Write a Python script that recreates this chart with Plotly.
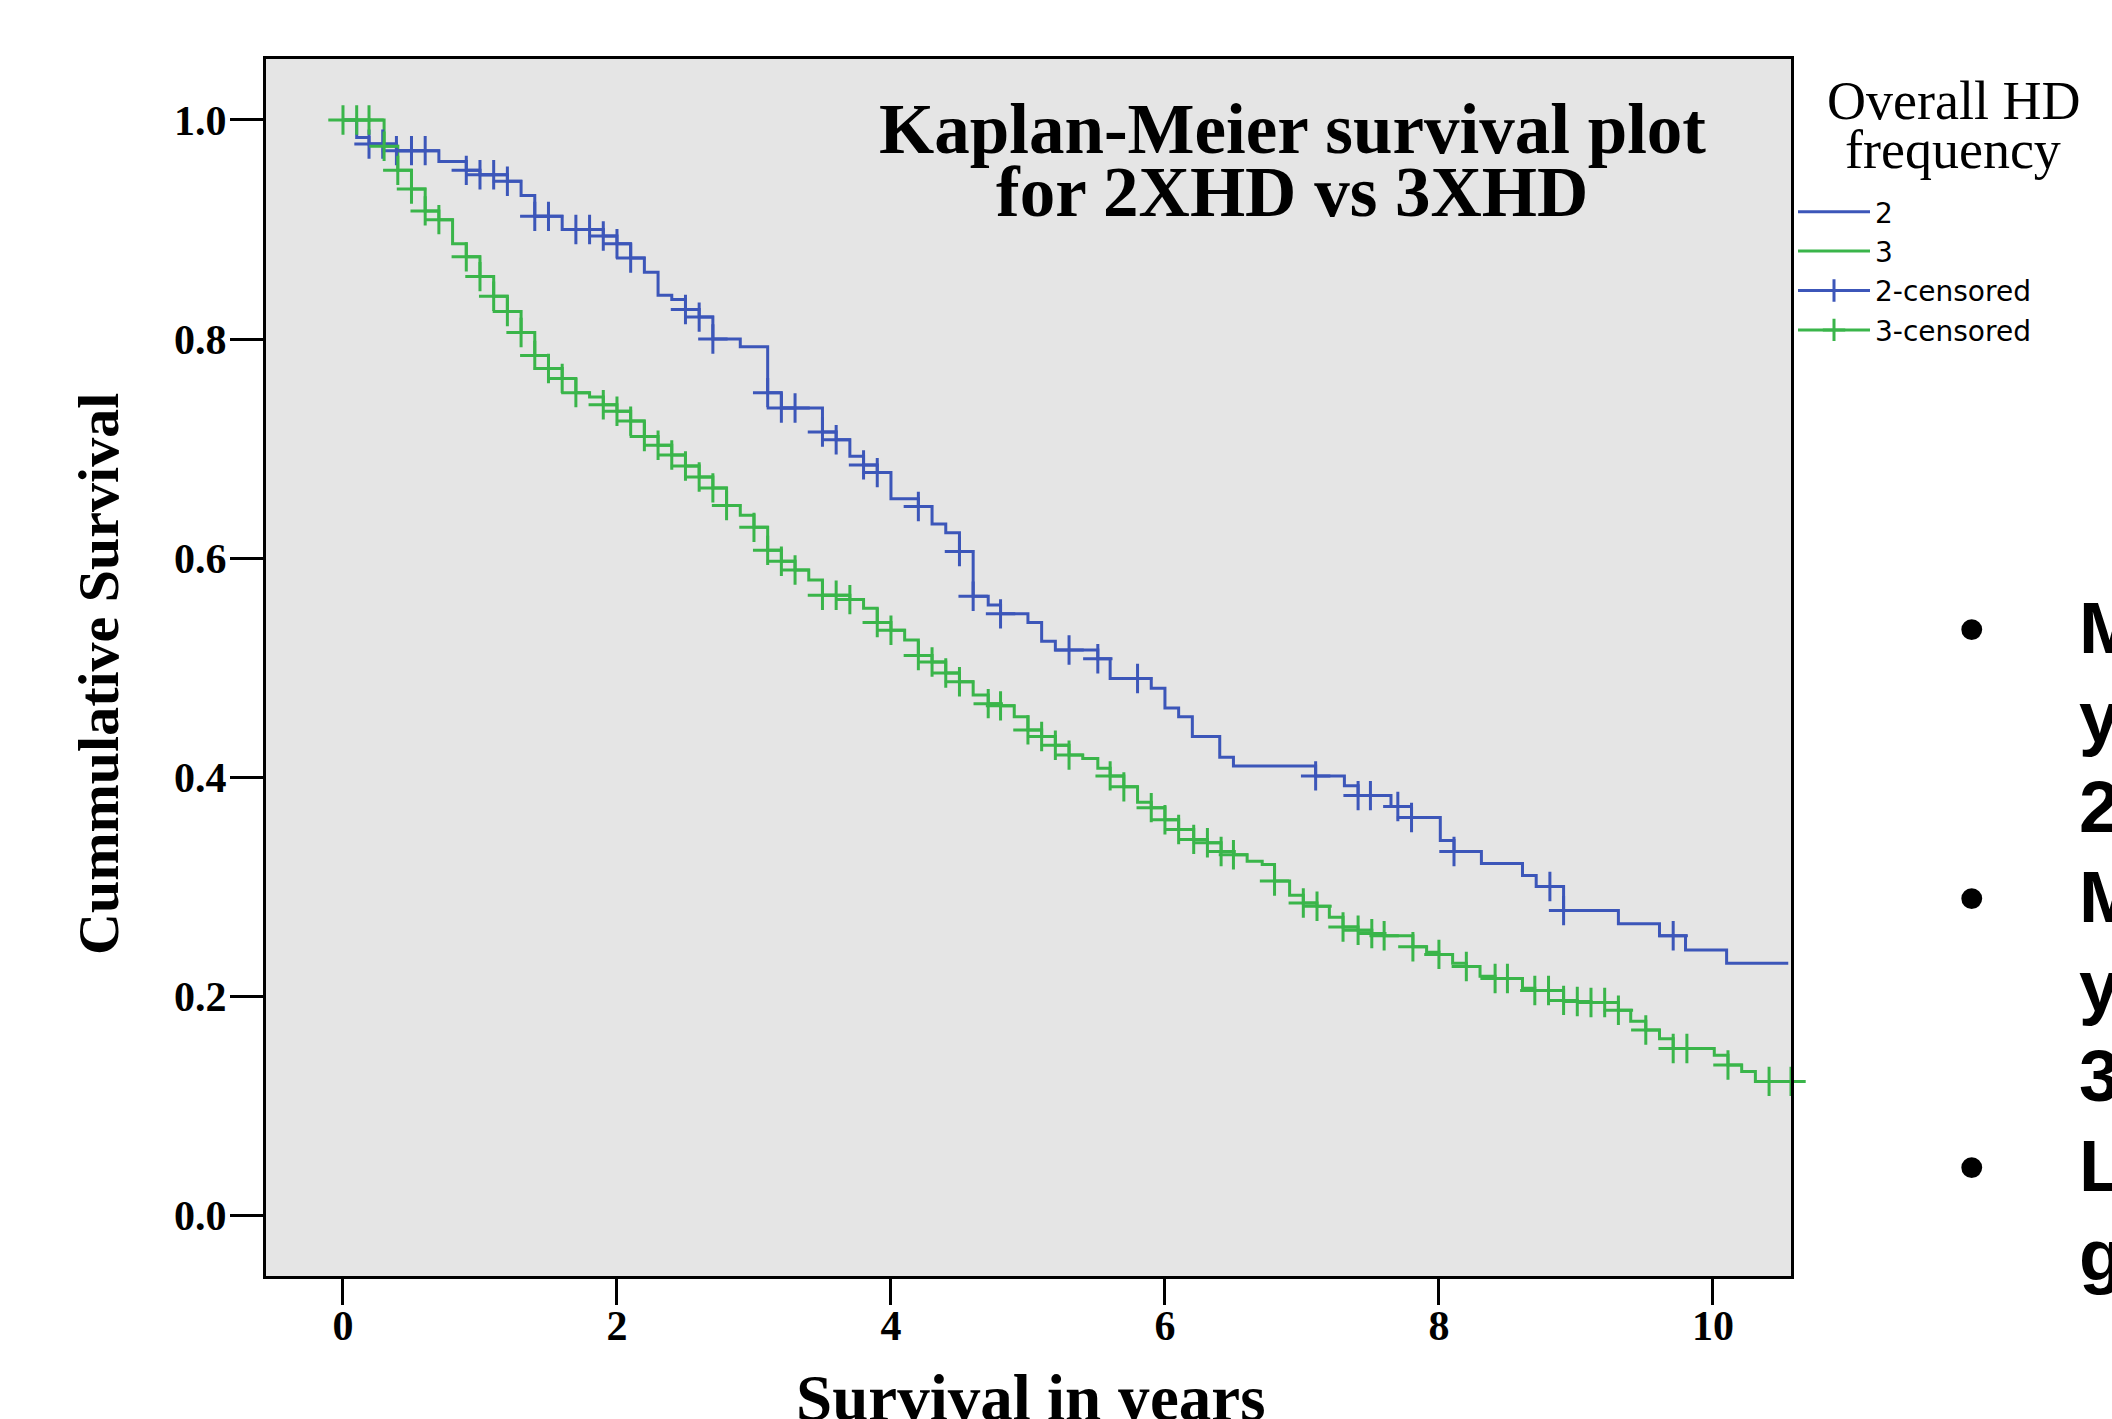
import numpy as np
import plotly.graph_objects as go

# ---------------- data ----------------
blue_t = [0, 0.10, 0.19, 0.39, 0.70, 0.90, 1.00, 1.20, 1.30, 1.40, 1.60, 1.90, 2.00, 2.10, 2.20,
          2.30, 2.40, 2.50, 2.60, 2.70, 2.90, 3.10, 3.20, 3.50, 3.60, 3.70, 3.80, 3.90, 4.00, 4.20,
          4.30, 4.40, 4.50, 4.60, 4.71, 4.80, 5.00, 5.10, 5.20, 5.51, 5.60, 5.90, 6.00, 6.10, 6.20,
          6.40, 6.50, 7.10, 7.31, 7.41, 7.65, 7.80, 8.01, 8.11, 8.31, 8.61, 8.71, 8.91, 9.31, 9.61,
          9.80, 10.10, 10.55]
blue_s = [1.0, 0.984, 0.978, 0.972, 0.962, 0.954, 0.950, 0.944, 0.931, 0.912, 0.900, 0.894, 0.887,
          0.874, 0.861, 0.840, 0.836, 0.827, 0.820, 0.800, 0.793, 0.751, 0.737, 0.715, 0.708, 0.693,
          0.685, 0.678, 0.654, 0.647, 0.631, 0.623, 0.606, 0.565, 0.557, 0.549, 0.541, 0.524, 0.516,
          0.508, 0.490, 0.481, 0.463, 0.455, 0.437, 0.418, 0.410, 0.401, 0.392, 0.383, 0.373, 0.363,
          0.342, 0.332, 0.321, 0.310, 0.300, 0.278, 0.266, 0.255, 0.242, 0.230, 0.230]
blue_censored = [0.19, 0.29, 0.39, 0.50, 0.60, 0.90, 1.00, 1.10, 1.20, 1.40, 1.50, 1.70, 1.80, 1.90,
                 2.00, 2.10, 2.50, 2.60, 2.70, 3.10, 3.20, 3.30, 3.50, 3.60, 3.80, 3.90, 4.20, 4.50,
                 4.60, 4.80, 5.30, 5.51, 5.80, 7.10, 7.41, 7.50, 7.70, 7.80, 8.11, 8.81, 8.91, 9.71]

green_t = [0, 0.30, 0.40, 0.50, 0.60, 0.70, 0.80, 0.90, 1.00, 1.10, 1.20, 1.30, 1.40, 1.50, 1.60,
           1.70, 1.80, 1.90, 2.00, 2.10, 2.20, 2.30, 2.40, 2.50, 2.60, 2.70, 2.80, 2.90, 3.00, 3.10,
           3.20, 3.30, 3.40, 3.50, 3.70, 3.80, 3.90, 4.00, 4.10, 4.20, 4.30, 4.40, 4.50, 4.60, 4.71,
           4.80, 4.90, 5.00, 5.10, 5.20, 5.30, 5.40, 5.51, 5.60, 5.70, 5.80, 5.90, 6.00, 6.10, 6.21,
           6.31, 6.41, 6.50, 6.60, 6.71, 6.80, 6.91, 7.01, 7.11, 7.20, 7.30, 7.41, 7.51, 7.60, 7.81,
           7.91, 8.00, 8.10, 8.20, 8.30, 8.41, 8.61, 8.70, 8.91, 9.01, 9.11, 9.31, 9.40, 9.51, 9.61,
           9.71, 10.01, 10.11, 10.21, 10.31, 10.57]
green_s = [1.0, 0.976, 0.954, 0.937, 0.917, 0.909, 0.887, 0.875, 0.857, 0.839, 0.825, 0.806, 0.785,
           0.773, 0.764, 0.751, 0.747, 0.740, 0.734, 0.725, 0.711, 0.703, 0.694, 0.684, 0.674, 0.664,
           0.648, 0.639, 0.628, 0.607, 0.597, 0.589, 0.580, 0.566, 0.562, 0.554, 0.541, 0.534, 0.525,
           0.511, 0.505, 0.495, 0.487, 0.475, 0.467, 0.465, 0.455, 0.443, 0.437, 0.429, 0.420, 0.417,
           0.408, 0.401, 0.391, 0.377, 0.372, 0.361, 0.352, 0.343, 0.340, 0.332, 0.329, 0.323, 0.320,
           0.305, 0.292, 0.285, 0.282, 0.272, 0.263, 0.260, 0.257, 0.255, 0.245, 0.240, 0.238, 0.230,
           0.227, 0.218, 0.216, 0.207, 0.205, 0.196, 0.195, 0.194, 0.187, 0.177, 0.169, 0.161, 0.152,
           0.146, 0.137, 0.131, 0.122, 0.122]
green_censored = [0.0, 0.10, 0.19, 0.30, 0.40, 0.50, 0.60, 0.70, 0.90, 1.00, 1.10, 1.20, 1.30, 1.40,
                  1.50, 1.60, 1.70, 1.90, 2.00, 2.10, 2.20, 2.30, 2.40, 2.50, 2.60, 2.70, 2.80, 3.00,
                  3.10, 3.20, 3.30, 3.50, 3.60, 3.70, 3.90, 4.00, 4.20, 4.30, 4.40, 4.50, 4.71, 4.80,
                  5.00, 5.10, 5.20, 5.30, 5.60, 5.70, 5.90, 6.00, 6.10, 6.21, 6.31, 6.41, 6.50, 6.80,
                  7.01, 7.11, 7.30, 7.41, 7.51, 7.60, 7.81, 8.00, 8.20, 8.41, 8.50, 8.70, 8.80, 8.91,
                  9.01, 9.11, 9.21, 9.31, 9.51, 9.71, 9.81, 10.11, 10.41, 10.57]

group_names = ["2", "3"]
censor_names = ["2-censored", "3-censored"]
x_ticks = [0, 2, 4, 6, 8, 10]
y_ticks = [0.0, 0.2, 0.4, 0.6, 0.8, 1.0]
title_lines = ["Kaplan-Meier survival plot", "for 2XHD vs 3XHD"]
legend_title_lines = ["Overall HD", "frequency"]
side_bullets = ["•", "•", "•"]
side_letters = ["M", "y", "2", "M", "y", "3", "L", "g"]

# ---------------- styling / layout geometry ----------------
W, H = 2112, 1419
L, R, T, B = 266, 1791, 59, 1276
BLUE = "#3C56B9"
GREEN = "#3AB54A"
SERIF = "Liberation Serif"


def pxx(x):
    return (x - L) / (R - L)


def pxy(y):
    return (B - y) / (B - T)


def step_value(times, surv, t):
    i = np.searchsorted(np.asarray(times), t, side="right") - 1
    return surv[max(i, 0)]


def gapped(times, surv, cens):
    xs, ys = [], []
    for t in cens:
        xs += [t, None]
        ys += [step_value(times, surv, t), None]
    return xs, ys


fig = go.Figure()

for name, t, s, col in [(group_names[0], blue_t, blue_s, BLUE), (group_names[1], green_t, green_s, GREEN)]:
    fig.add_trace(go.Scatter(x=t, y=s, mode="lines", name=name, line=dict(color=col, width=3, shape="hv")))

for name, t, s, c, col in [(censor_names[0], blue_t, blue_s, blue_censored, BLUE),
                           (censor_names[1], green_t, green_s, green_censored, GREEN)]:
    cx, cy = gapped(t, s, c)
    fig.add_trace(go.Scatter(x=cx, y=cy, mode="lines+markers", name=name, connectgaps=False,
                             cliponaxis=False,
                             line=dict(color=col, width=3),
                             marker=dict(symbol="cross-thin", size=21, color=col,
                                         line=dict(width=3, color=col))))

axis_common = dict(showgrid=False, zeroline=False, showline=True, linewidth=3, linecolor="black",
                   mirror=True, ticks="outside", tickwidth=3, tickcolor="black",
                   tickfont=dict(family=SERIF, size=42, color="black", weight="bold"))

fig.update_xaxes(range=[-0.562, 10.57], tickvals=x_ticks, ticklen=26, ticklabelstandoff=-15,
                 **axis_common)
fig.update_yaxes(range=[-0.0557, 1.0557], tickvals=y_ticks, tickformat=".1f", ticklen=33,
                 ticklabelstandoff=-5, **axis_common)

ann = []
# chart title (two lines)
for txt, yc in zip(title_lines, [129, 192]):
    ann.append(dict(text=txt, x=pxx(1292), y=pxy(yc), xref="paper", yref="paper", showarrow=False,
                    xanchor="center", yanchor="middle",
                    font=dict(family=SERIF, size=71, color="black", weight="bold")))
# axis titles
ann.append(dict(text="Cummulative Survival", x=pxx(98), y=pxy(674), xref="paper", yref="paper",
                showarrow=False, textangle=-90, xanchor="center", yanchor="middle",
                font=dict(family=SERIF, size=58, color="black", weight="bold")))
ann.append(dict(text="Survival in years", x=pxx(1030), y=pxy(1398), xref="paper", yref="paper",
                showarrow=False, xanchor="center", yanchor="middle",
                font=dict(family=SERIF, size=65, color="black", weight="bold")))
# legend title
for txt, yc in zip(legend_title_lines, [101, 150]):
    ann.append(dict(text=txt, x=pxx(1953), y=pxy(yc), xref="paper", yref="paper", showarrow=False,
                    xanchor="center", yanchor="middle",
                    font=dict(family=SERIF, size=54, color="black")))
# cut-off slide text on the right
for i, b in enumerate(side_bullets):
    ann.append(dict(text=b, x=pxx(1972), y=pxy(627 + i * 3 * 89.7), xref="paper", yref="paper",
                    showarrow=False, xanchor="center", yanchor="middle",
                    font=dict(family="Liberation Sans", size=73, color="black", weight="bold")))
for i, ch in enumerate(side_letters):
    ann.append(dict(text=ch, x=pxx(2077), y=pxy(627 + i * 89.7), xref="paper", yref="paper",
                    showarrow=False, xanchor="left", yanchor="middle",
                    font=dict(family="Liberation Sans", size=73, color="black", weight="bold")))

fig.update_layout(
    width=W, height=H,
    margin=dict(l=L, r=W - R, t=T, b=H - B, pad=0),
    paper_bgcolor="white", plot_bgcolor="#E5E5E5",
    showlegend=True,
    legend=dict(x=pxx(1793), y=pxy(187), xanchor="left", yanchor="top", bgcolor="rgba(0,0,0,0)",
                borderwidth=0, itemwidth=72, traceorder="normal",
                font=dict(family="DejaVu Sans", size=28, color="black")),
    annotations=ann,
)

fig.write_html("out.html")
